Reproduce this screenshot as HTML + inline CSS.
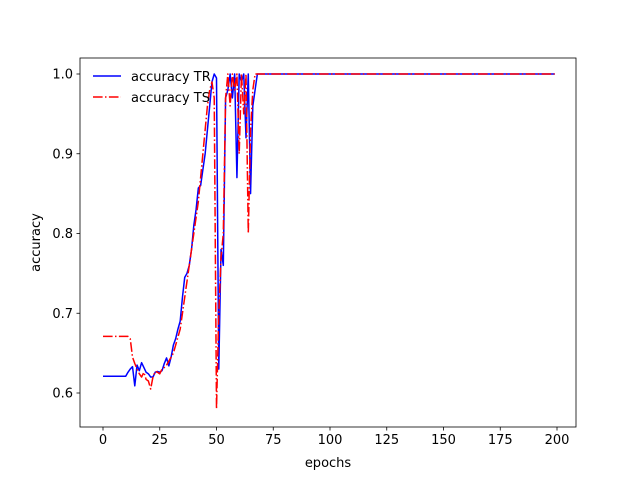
<!DOCTYPE html>
<html><head><meta charset="utf-8"><style>
body{margin:0;background:#fff;}
svg text{font-family:"DejaVu Sans","Liberation Sans",sans-serif;font-size:13px;fill:#000;}
</style></head><body>
<svg id="chart" width="640" height="480">
<rect x="0" y="0" width="640" height="480" fill="#fff"/>
<g id="plot"></g>
<g id="axes"></g>
</svg>
<script>
const ONE130 = [1,1,1,1,1,1,1,1,1,1,1,1,1,1,1,1,1,1,1,1,1,1,1,1,1,1,1,1,1,1,1,1,1,1,1,1,1,1,1,1,1,1,1,1,1,1,1,1,1,1,1,1,1,1,1,1,1,1,1,1,1,1,1,1,1,1,1,1,1,1,1,1,1,1,1,1,1,1,1,1,1,1,1,1,1,1,1,1,1,1,1,1,1,1,1,1,1,1,1,1,1,1,1,1,1,1,1,1,1,1,1,1,1,1,1,1,1,1,1,1,1,1,1,1,1,1,1,1,1,1];
const accTR = [0.621,0.621,0.621,0.621,0.621,0.621,0.621,0.621,0.621,0.621,0.621,0.626,0.63,0.633,0.609,0.635,0.628,0.638,0.632,0.626,0.624,0.62,0.62,0.626,0.627,0.626,0.628,0.637,0.644,0.634,0.645,0.66,0.668,0.68,0.69,0.72,0.745,0.75,0.76,0.78,0.81,0.83,0.857,0.86,0.88,0.9,0.93,0.96,0.99,1.0,0.995,0.63,0.78,0.76,0.97,0.98,1.0,0.97,1.0,0.87,1.0,0.99,1.0,0.92,1.0,0.85,0.96,0.98,1.0,1.0].concat(ONE130);
const accTS = [0.671,0.671,0.671,0.671,0.671,0.671,0.671,0.671,0.671,0.671,0.671,0.671,0.668,0.645,0.637,0.63,0.624,0.62,0.626,0.617,0.615,0.605,0.62,0.627,0.626,0.624,0.63,0.632,0.635,0.64,0.645,0.65,0.66,0.67,0.68,0.7,0.72,0.74,0.76,0.78,0.8,0.82,0.84,0.87,0.9,0.93,0.96,0.98,0.99,0.97,0.58,0.7,0.77,0.8,0.97,1.0,0.96,1.0,0.98,1.0,0.9,1.0,0.95,1.0,0.8,0.93,0.98,1.0,1.0,1.0].concat(ONE130);
const xTicks = [0,25,50,75,100,125,150,175,200];
const yTicks = [0.6,0.7,0.8,0.9,1.0];
const yTickLabels = ["0.6","0.7","0.8","0.9","1.0"];

const NS="http://www.w3.org/2000/svg";
const L=80,R=576,T=58,B=427;
const xs=v=>103+(v-0)*(557-103)/200;
const ys=v=>393-(v-0.6)*(393-74)/0.4;
function mk(tag,attrs,parent){const e=document.createElementNS(NS,tag);for(const k in attrs)e.setAttribute(k,attrs[k]);parent.appendChild(e);return e;}
const plot=document.getElementById('plot'), axes=document.getElementById('axes');

function line(data,color,dash,name){
  const d=data.map((v,i)=>(i?'L':'M')+xs(i).toFixed(2)+','+ys(v).toFixed(2)).join('');
  const p=mk('path',{d:d,fill:'none',stroke:color,'stroke-width':1.5,'stroke-linejoin':'round'},plot);
  if(dash)p.setAttribute('stroke-dasharray',dash);
  
  
}
line(accTR,'#0000ff',null,'series-accuracy-tr');
line(accTS,'#ff0000','9.6,2.4,1.5,2.4','series-accuracy-ts');

const frame=mk('rect',{x:L,y:T,width:R-L,height:B-T,fill:'none',stroke:'#000','stroke-width':0.8},axes);


xTicks.forEach(t=>{
  mk('line',{x1:xs(t),x2:xs(t),y1:B,y2:B+3.5,stroke:'#000','stroke-width':0.8},axes);
  const tx=mk('text',{x:xs(t),y:B+17,'text-anchor':'middle'},axes);tx.textContent=t;
  
  
});
yTicks.forEach((t,i)=>{
  mk('line',{x1:L-3.5,x2:L,y1:ys(t),y2:ys(t),stroke:'#000','stroke-width':0.8},axes);
  const tx=mk('text',{x:L-7,y:ys(t)+4.5,'text-anchor':'end'},axes);tx.textContent=yTickLabels[i];
  
  
});
const xt=mk('text',{x:(L+R)/2,y:467,'text-anchor':'middle'},axes);xt.textContent='epochs';


const yt=mk('text',{x:0,y:0,'text-anchor':'middle',transform:'translate(40,'+((T+B)/2)+') rotate(-90)'},axes);yt.textContent='accuracy';



const lg=mk('g',{},axes);


mk('line',{x1:93,x2:121,y1:76,y2:76,stroke:'#0000ff','stroke-width':1.5},lg);
mk('line',{x1:93,x2:121,y1:97,y2:97,stroke:'#ff0000','stroke-width':1.5,'stroke-dasharray':'9.6,2.4,1.5,2.4'},lg);
const l1=mk('text',{x:131,y:81},lg);l1.textContent='accuracy TR';


const l2=mk('text',{x:131,y:102},lg);l2.textContent='accuracy TS';


</script>
</body></html>
